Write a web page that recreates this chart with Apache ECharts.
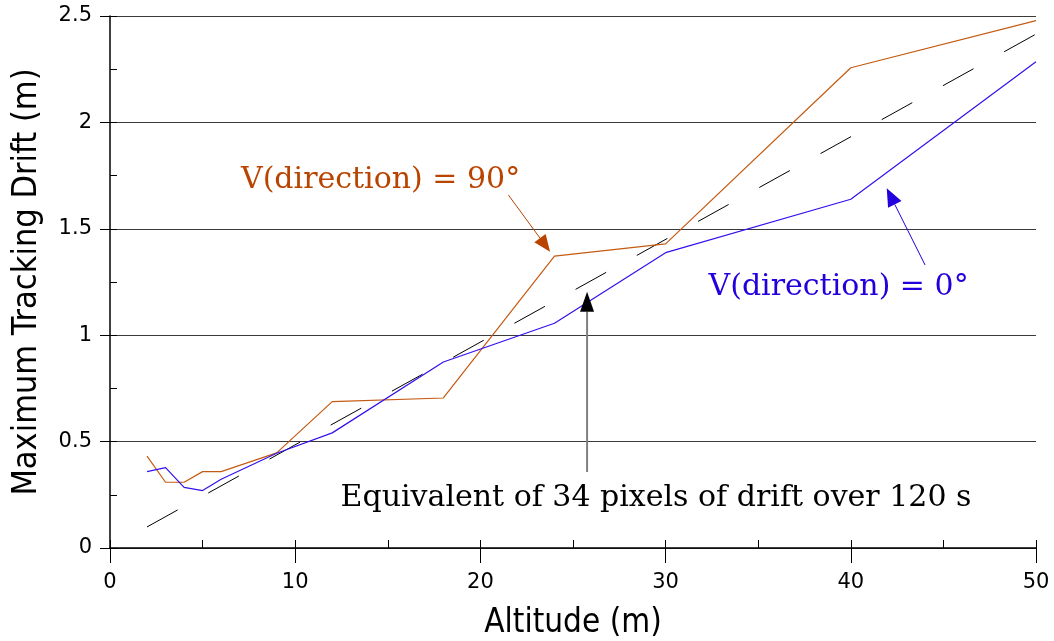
<!DOCTYPE html>
<html>
<head>
<meta charset="utf-8">
<script src="https://cdn.jsdelivr.net/npm/echarts@6/dist/echarts.min.js"></script>
<style>
html,body{margin:0;padding:0;background:#fff;}
#chart{width:1054px;height:641px;}
</style>
</head>
<body>
<div id="chart"></div>
<script>
// ---- data ----
const altitudes = [2, 3, 4, 5, 6, 9, 12, 18, 24, 30, 40, 50];
const drift90 = [0.432, 0.309, 0.309, 0.359, 0.359, 0.447, 0.688, 0.705, 1.372, 1.429, 2.257, 2.478];
const drift0  = [0.359, 0.378, 0.285, 0.270, 0.323, 0.445, 0.541, 0.874, 1.056, 1.388, 1.639, 2.285];
const equivX = [2, 50];
const equivY = [0.099, 2.415];
const xTicks = [0, 10, 20, 30, 40, 50];
const yTicks = [0, 0.5, 1, 1.5, 2, 2.5];
const annotationTexts = ['V(direction) = 90°', 'V(direction) = 0°', 'Equivalent of 34 pixels of drift over 120 s'];
const annotationX = [14.61, 39.34, 29.48];
const annotationY = [1.729, 1.226, 0.235];
const arrowFromX = [21.51, 44.01, 25.76];
const arrowFromY = [1.659, 1.330, 0.357];
const arrowToX = [23.76, 41.94, 25.76];
const arrowToY = [1.392, 1.690, 1.204];

// ---- styles ----
const ORANGE_LINE = '#c55a11';
const ORANGE_TEXT = '#b84400';
const BLUE_LINE = '#3311ee';
const BLUE_TEXT = '#2200dd';
const annotationColors = [ORANGE_TEXT, BLUE_TEXT, '#000000'];
const arrowStyles = [
  {line: ORANGE_TEXT, head: ORANGE_TEXT, width: 1, headLen: 17, headW: 14},
  {line: BLUE_TEXT, head: BLUE_TEXT, width: 1, headLen: 18, headW: 15},
  {line: '#808080', head: '#000000', width: 2, headLen: 20, headW: 14}
];
const SANS = '"DejaVu Sans", sans-serif';
const SANS_TITLE = '"DejaVu Sans Condensed", "DejaVu Sans", sans-serif';
const SERIF = '"DejaVu Serif", serif';

const chart = echarts.init(document.getElementById('chart'), null, {renderer: 'canvas'});

const option = {
  animation: false,
  backgroundColor: '#ffffff',
  grid: {left: 110, right: 18, top: 16, bottom: 93, containLabel: false, outerBoundsMode: 'none'},
  xAxis: [
    {
      type: 'value', min: 0, max: 50, interval: 10, position: 'bottom',
      name: 'Altitude (m)', nameLocation: 'middle', nameGap: 59,
      nameTextStyle: {fontFamily: SANS_TITLE, fontSize: 33, color: '#000'},
      axisLine: {show: true, onZero: false, lineStyle: {color: '#000', width: 1.5}},
      axisTick: {show: true, inside: false, length: 15, lineStyle: {color: '#000', width: 1}},
      axisLabel: {show: true, margin: 24, fontFamily: SANS, fontSize: 21, color: '#000',
        formatter: v => xTicks.includes(v) ? String(v) : ''},
      splitLine: {show: false}
    },
    {
      type: 'value', min: 0, max: 50, interval: 5, position: 'bottom',
      axisLine: {show: false, onZero: false},
      axisTick: {show: true, inside: true, length: 8, lineStyle: {color: '#000', width: 1}},
      axisLabel: {show: false},
      splitLine: {show: false}
    }
  ],
  yAxis: [
    {
      type: 'value', min: 0, max: 2.5, interval: 0.5, position: 'left',
      name: 'Maximum Tracking Drift (m)', nameLocation: 'middle', nameGap: 66, nameRotate: 90,
      nameTextStyle: {fontFamily: SANS_TITLE, fontSize: 34, color: '#000'},
      axisLine: {show: true, onZero: false, lineStyle: {color: '#000', width: 1.5}},
      axisTick: {show: true, inside: false, length: 10, lineStyle: {color: '#000', width: 1}},
      axisLabel: {show: true, margin: 18, fontFamily: SANS, fontSize: 21, color: '#000',
        formatter: v => { const t = yTicks.find(k => Math.abs(k - v) < 1e-9); return t === undefined ? '' : String(t); }},
      splitLine: {show: true, lineStyle: {color: '#3a3a3a', width: 1.1}}
    },
    {
      type: 'value', min: 0, max: 2.5, interval: 0.25, position: 'left',
      axisLine: {show: false, onZero: false},
      axisTick: {show: true, inside: true, length: 7, lineStyle: {color: '#000', width: 1}},
      axisLabel: {show: false},
      splitLine: {show: false}
    }
  ],
  series: [
    {
      type: 'line', name: 'equivalent', xAxisIndex: 0, yAxisIndex: 0, z: 3,
      data: equivX.map((x, i) => [x, equivY[i]]),
      showSymbol: false, symbol: 'none',
      lineStyle: {color: '#000', width: 1, type: [35, 35]}
    },
    {
      type: 'line', name: 'V90', xAxisIndex: 0, yAxisIndex: 0, z: 4,
      data: altitudes.map((x, i) => [x, drift90[i]]),
      showSymbol: false, symbol: 'none',
      lineStyle: {color: ORANGE_LINE, width: 1.2}
    },
    {
      type: 'line', name: 'V0', xAxisIndex: 0, yAxisIndex: 0, z: 4,
      data: altitudes.map((x, i) => [x, drift0[i]]),
      showSymbol: false, symbol: 'none',
      lineStyle: {color: BLUE_LINE, width: 1.2}
    },
    {
      type: 'custom', name: 'arrows', xAxisIndex: 0, yAxisIndex: 0, z: 5,
      data: arrowFromX.map((x, i) => [x, arrowFromY[i], arrowToX[i], arrowToY[i]]),
      renderItem: function (params, api) {
        const p1 = api.coord([api.value(0), api.value(1)]);
        const p2 = api.coord([api.value(2), api.value(3)]);
        const st = arrowStyles[params.dataIndex];
        const dx = p2[0] - p1[0], dy = p2[1] - p1[1];
        const len = Math.hypot(dx, dy);
        const ux = dx / len, uy = dy / len;
        const base = [p2[0] - ux * st.headLen, p2[1] - uy * st.headLen];
        const left = [base[0] - uy * st.headW / 2, base[1] + ux * st.headW / 2];
        const right = [base[0] + uy * st.headW / 2, base[1] - ux * st.headW / 2];
        return {
          type: 'group',
          children: [
            {type: 'line', shape: {x1: p1[0], y1: p1[1], x2: base[0], y2: base[1]},
              style: {stroke: st.line, lineWidth: st.width}},
            {type: 'polygon', shape: {points: [p2, left, right]},
              style: {fill: st.head, stroke: null}}
          ]
        };
      }
    },
    {
      type: 'custom', name: 'texts', xAxisIndex: 0, yAxisIndex: 0, z: 6,
      data: annotationX.map((x, i) => [x, annotationY[i]]),
      renderItem: function (params, api) {
        const p = api.coord([api.value(0), api.value(1)]);
        return {
          type: 'text',
          x: p[0], y: p[1],
          style: {
            text: annotationTexts[params.dataIndex],
            fill: annotationColors[params.dataIndex],
            font: '30px ' + SERIF,
            align: 'center', verticalAlign: 'middle'
          }
        };
      }
    }
  ]
};
chart.setOption(option);
</script>
</body>
</html>
